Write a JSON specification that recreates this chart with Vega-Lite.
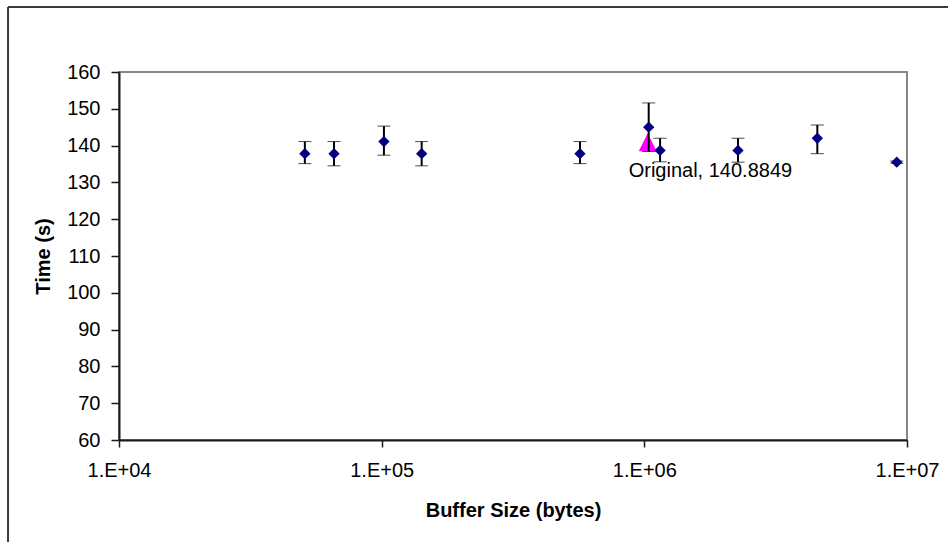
{
  "$schema": "https://vega.github.io/schema/vega-lite/v6.json",
  "autosize": {"type": "none"},
  "width": 788,
  "height": 368,
  "padding": {"left": 119, "top": 72, "right": 41, "bottom": 102},
  "background": "white",
  "config": {
    "font": "Liberation Sans",
    "view": {"stroke": "#868686", "strokeWidth": 2},
    "axis": {
      "grid": false,
      "domainColor": "#1a1a1a",
      "domainWidth": 2,
      "tickColor": "#1a1a1a",
      "tickWidth": 1.5,
      "labelColor": "black",
      "labelFont": "Liberation Sans",
      "labelFontSize": 20,
      "labelFlush": false,
      "labelOverlap": false,
      "titleColor": "black",
      "titleFont": "Liberation Sans",
      "titleFontSize": 20,
      "titleFontWeight": "bold"
    }
  },
  "datasets": {
    "runs": [
      {"buffer": 51000, "time": 137.8, "low": 135.1, "high": 141.1},
      {"buffer": 65850, "time": 137.8, "low": 134.5, "high": 141.1},
      {"buffer": 102000, "time": 141.1, "low": 137.4, "high": 145.3},
      {"buffer": 142000, "time": 137.8, "low": 134.5, "high": 141.1},
      {"buffer": 568800, "time": 137.8, "low": 135.1, "high": 141.1},
      {"buffer": 1039000, "time": 145.0, "low": 138.4, "high": 151.6},
      {"buffer": 1148000, "time": 138.7, "low": 135.6, "high": 142.0},
      {"buffer": 2273000, "time": 138.7, "low": 135.5, "high": 142.0},
      {"buffer": 4556000, "time": 142.0, "low": 137.8, "high": 145.6},
      {"buffer": 9140000, "time": 135.5, "low": 135.2, "high": 135.8}
    ],
    "original": [
      {"buffer": 1030000, "time": 140.8849, "label": "Original, 140.8849"}
    ],
    "frame": [
      {"left": 3780, "right": 1e9, "top": 177.66, "bottom": 0}
    ]
  },
  "encoding": {
    "x": {
      "type": "quantitative",
      "title": "Buffer Size (bytes)",
      "scale": {"type": "log", "domain": [10000, 10000000]},
      "axis": {
        "values": [10000, 100000, 1000000, 10000000],
        "labelExpr": "'1.E+0' + round(log(datum.value) / LN10)",
        "tickSize": 7,
        "labelPadding": 13,
        "titlePadding": 20
      }
    },
    "y": {
      "type": "quantitative",
      "title": "Time (s)",
      "scale": {"domain": [60, 160], "nice": false, "zero": false},
      "axis": {
        "values": [60, 70, 80, 90, 100, 110, 120, 130, 140, 150, 160],
        "tickSize": 8,
        "labelPadding": 11,
        "titlePadding": 13
      }
    }
  },
  "layer": [
    {
      "data": {"name": "frame"},
      "mark": {"type": "rule", "color": "#3c3c3c", "strokeWidth": 2, "clip": false},
      "encoding": {
        "x": {"field": "left"},
        "y": {"field": "top"},
        "y2": {"field": "bottom"}
      }
    },
    {
      "data": {"name": "frame"},
      "mark": {"type": "rule", "color": "#3c3c3c", "strokeWidth": 2, "clip": false},
      "encoding": {
        "x": {"field": "left"},
        "x2": {"field": "right"},
        "y": {"field": "top"}
      }
    },
    {
      "data": {"name": "original"},
      "mark": {"type": "point", "shape": "M0,-1L-1,1L1,1Z", "filled": true, "color": "#ff00ff", "size": 324, "opacity": 1},
      "encoding": {
        "x": {"field": "buffer"},
        "y": {"field": "time"}
      }
    },
    {
      "data": {"name": "runs"},
      "mark": {
        "type": "errorbar",
        "color": "black",
        "rule": {"strokeWidth": 2},
        "ticks": {"size": 13, "strokeWidth": 2, "color": "black"}
      },
      "encoding": {
        "x": {"field": "buffer"},
        "y": {"field": "low"},
        "y2": {"field": "high"}
      }
    },
    {
      "data": {"name": "runs"},
      "mark": {"type": "point", "shape": "diamond", "filled": true, "color": "#000080", "size": 128, "opacity": 1},
      "encoding": {
        "x": {"field": "buffer"},
        "y": {"field": "time"}
      }
    },
    {
      "data": {"name": "original"},
      "mark": {"type": "text", "align": "left", "baseline": "middle", "dx": -19, "dy": 29, "fontSize": 20, "font": "Liberation Sans", "color": "black"},
      "encoding": {
        "x": {"field": "buffer"},
        "y": {"field": "time"},
        "text": {"field": "label"}
      }
    }
  ]
}
